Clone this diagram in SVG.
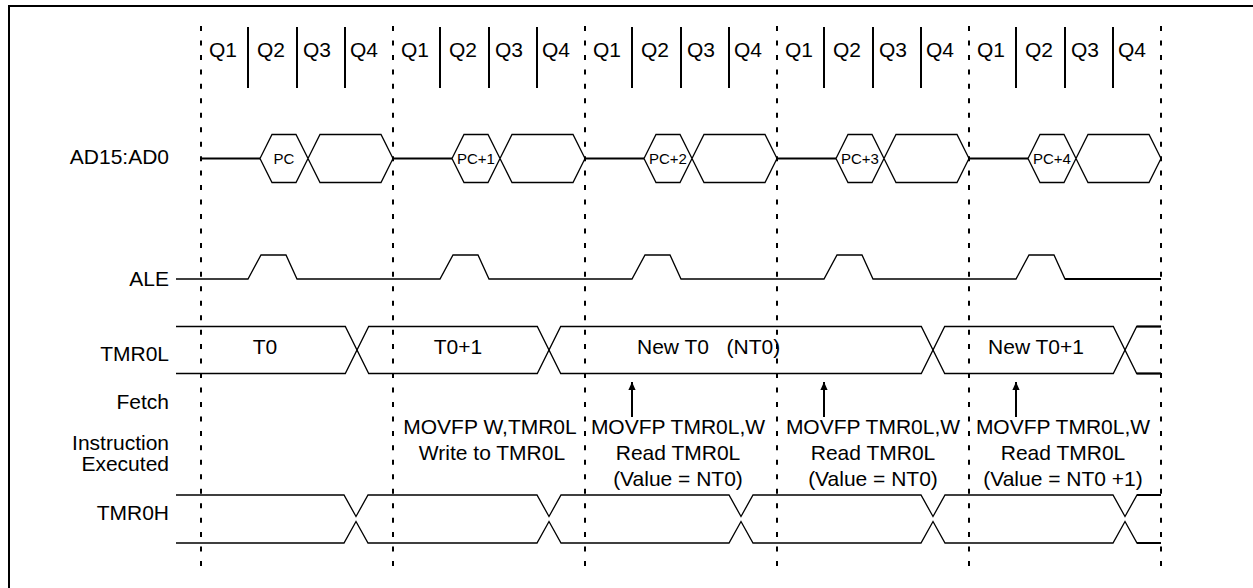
<svg xmlns="http://www.w3.org/2000/svg" width="1253" height="588" viewBox="0 0 1253 588">
<style>
.t{font-family:"Liberation Sans",Arial,Helvetica,sans-serif;font-size:21px;fill:#000}
.e{text-anchor:end}
.m{text-anchor:middle}
.pc{font-family:"Liberation Sans",Arial,Helvetica,sans-serif;font-size:15px;fill:#000;text-anchor:middle}
.w{fill:none;stroke:#000;stroke-width:1.3}
.b{fill:none;stroke:#000;stroke-width:2}
.d{fill:none;stroke:#000;stroke-width:2;stroke-dasharray:5 9.46}
</style>
<defs>
<marker id="ah" viewBox="0 0 10 10" refX="10" refY="5" markerWidth="9" markerHeight="8" markerUnits="userSpaceOnUse" orient="auto">
<path d="M0,0.5 L10,5 L0,9.5 Z" fill="#000"/>
</marker>
</defs>
<rect width="1253" height="588" fill="#fff"/>
<path class="b" d="M9,590 V6 H1260"/>

<g id="grid">
<path class="d" d="M201,26 V566 M393,26 V566 M585,26 V566 M777,26 V566 M969,26 V566 M1161,26 V566"/>
<path class="b" d="M248,27 V88 M297,27 V88 M345,27 V88 M440,27 V88 M489,27 V88 M537,27 V88 M632,27 V88 M681,27 V88 M729,27 V88 M824,27 V88 M873,27 V88 M921,27 V88 M1016,27 V88 M1065,27 V88 M1113,27 V88"/>
</g>

<g id="quarters" class="t">
<text x="209" y="57">Q1</text><text x="257" y="57">Q2</text><text x="303" y="57">Q3</text><text x="350" y="57">Q4</text>
<text x="401" y="57">Q1</text><text x="449" y="57">Q2</text><text x="495" y="57">Q3</text><text x="542" y="57">Q4</text>
<text x="593" y="57">Q1</text><text x="641" y="57">Q2</text><text x="687" y="57">Q3</text><text x="734" y="57">Q4</text>
<text x="785" y="57">Q1</text><text x="833" y="57">Q2</text><text x="879" y="57">Q3</text><text x="926" y="57">Q4</text>
<text x="977" y="57">Q1</text><text x="1025" y="57">Q2</text><text x="1071" y="57">Q3</text><text x="1118" y="57">Q4</text>
</g>

<g id="labels" class="t e">
<text x="169" y="164">AD15:AD0</text>
<text x="169" y="286">ALE</text>
<text x="169" y="361">TMR0L</text>
<text x="169" y="409">Fetch</text>
<text x="169" y="450">Instruction</text>
<text x="169" y="471">Executed</text>
<text x="169" y="520">TMR0H</text>
</g>

<g id="ad15-ad0">
<path class="b" d="M201,158.5 H260 M393,158.5 H452 M585,158.5 H644 M777,158.5 H836 M969,158.5 H1028"/>
<path class="w" d="M260,158.5 L272,134.5 H296 L308,158.5 L296,182.5 H272 Z M308,158.5 L320,134.5 H381 L393,158.5 L381,182.5 H320 Z"/>
<path class="w" d="M452,158.5 L464,134.5 H488 L500,158.5 L488,182.5 H464 Z M500,158.5 L512,134.5 H573 L585,158.5 L573,182.5 H512 Z"/>
<path class="w" d="M644,158.5 L656,134.5 H680 L692,158.5 L680,182.5 H656 Z M692,158.5 L704,134.5 H765 L777,158.5 L765,182.5 H704 Z"/>
<path class="w" d="M836,158.5 L848,134.5 H872 L884,158.5 L872,182.5 H848 Z M884,158.5 L896,134.5 H957 L969,158.5 L957,182.5 H896 Z"/>
<path class="w" d="M1028,158.5 L1040,134.5 H1064 L1076,158.5 L1064,182.5 H1040 Z M1076,158.5 L1088,134.5 H1149 L1161,158.5 L1149,182.5 H1088 Z"/>
<text class="pc" x="284" y="164">PC</text>
<text class="pc" x="476" y="164">PC+1</text>
<text class="pc" x="668" y="164">PC+2</text>
<text class="pc" x="860" y="164">PC+3</text>
<text class="pc" x="1052" y="164">PC+4</text>
</g>

<g id="ale">
<path class="w" d="M176,279 H248 L261,255 H286 L297,279 H440 L453,255 H478 L489,279 H632 L645,255 H670 L681,279 H824 L837,255 H862 L873,279 H1016 L1029,255 H1054 L1065,279 H1161"/>
<path class="b" d="M1065,279 H1161"/>
</g>

<g id="tmr0l">
<path class="w" d="M176,326.5 H345.3 L368.7,373.5 H537.3 L560.7,326.5 H921.3 L944.7,373.5 H1113.3 L1136.7,326.5 H1161"/>
<path class="w" d="M176,373.5 H345.3 L368.7,326.5 H537.3 L560.7,373.5 H921.3 L944.7,326.5 H1113.3 L1136.7,373.5 H1161"/>
<path class="b" d="M1136.7,326.5 H1161 M1136.7,373.5 H1161"/>
<text class="t m" x="265" y="354">T0</text>
<text class="t m" x="458" y="354">T0+1</text>
<text class="t" x="637" y="354" xml:space="preserve">New T0   (NT0)</text>
<text class="t m" x="1036" y="354">New T0+1</text>
</g>

<g id="instructions" class="t m">
<text x="490" y="434">MOVFP W,TMR0L</text>
<text x="492" y="460">Write to TMR0L</text>
<text x="678" y="434">MOVFP TMR0L,W</text>
<text x="678" y="460">Read TMR0L</text>
<text x="678" y="486">(Value = NT0)</text>
<text x="873" y="434">MOVFP TMR0L,W</text>
<text x="873" y="460">Read TMR0L</text>
<text x="873" y="486">(Value = NT0)</text>
<text x="1063" y="434">MOVFP TMR0L,W</text>
<text x="1063" y="460">Read TMR0L</text>
<text x="1063" y="486">(Value = NT0 +1)</text>
</g>

<g id="tmr0h">
<path class="w" d="M176,495 H344 L356,516.5 L368,495 H537 L549,516.5 L561,495 H729 L741,516.5 L753,495 H921 L933,516.5 L945,495 H1113 L1125,516.5 L1137,495 H1161"/>
<path class="w" d="M176,543 H344 L356,521.5 L368,543 H537 L549,521.5 L561,543 H729 L741,521.5 L753,543 H921 L933,521.5 L945,543 H1113 L1125,521.5 L1137,543 H1161"/>
<path class="b" d="M1137,495 H1161 M1137,543 H1161"/>
</g>

<g id="connectors">
<path class="b" d="M632,417 V382" marker-end="url(#ah)"/>
<path class="b" d="M824,417 V382" marker-end="url(#ah)"/>
<path class="b" d="M1016,417 V382" marker-end="url(#ah)"/>
</g>
</svg>
